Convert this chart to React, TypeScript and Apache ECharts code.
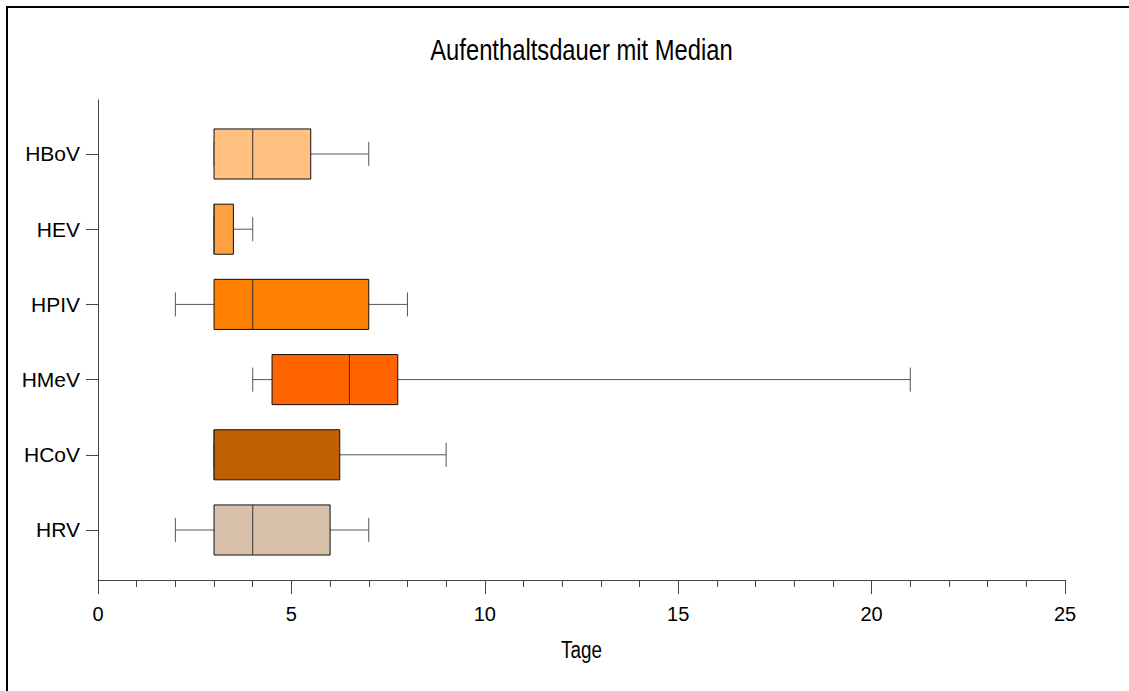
import React, { useEffect, useRef } from "react";
import * as echarts from "echarts";

// Categories, top to bottom as shown
const categories = ["HBoV", "HEV", "HPIV", "HMeV", "HCoV", "HRV"];
// Box statistics (days)
const minValues = [3, 3, 2, 4, 3, 2];
const q1Values = [3, 3, 3, 4.5, 3, 3];
const medianValues = [4, 3, 4, 6.5, 3, 4];
const q3Values = [5.5, 3.5, 7, 7.75, 6.25, 6];
const maxValues = [7, 4, 8, 21, 9, 7];
const boxColors = ["#FFC080", "#FFA040", "#FF8000", "#FF6400", "#C06000", "#D9C0AA"];
const xTicks = [0, 5, 10, 15, 20, 25];
const titleText = "Aufenthaltsdauer mit Median";
const xAxisTitle = "Tage";

const FONT = "'Liberation Sans', Arial, sans-serif";
const W = 1129;
const H = 691;
const GRID = { left: 98, right: 64, top: 100, bottom: 111 };

export default function App() {
  const ref = useRef<HTMLDivElement>(null);
  useEffect(() => {
    if (!ref.current) return;
    const chart = echarts.init(ref.current, null, { renderer: "svg" });
    const n = categories.length;
    const positions = categories.map((_, i) => n - i);
    const data = categories.map((c, i) => [
      positions[i],
      minValues[i],
      q1Values[i],
      medianValues[i],
      q3Values[i],
      maxValues[i],
      i,
    ]);
    const plotCenterX = (GRID.left + (W - GRID.right)) / 2;
    chart.setOption({
      animation: false,
      backgroundColor: "transparent",
      graphic: [
        {
          type: "text",
          x: plotCenterX,
          y: 50,
          scaleX: 0.82,
          style: {
            text: titleText,
            fontFamily: FONT,
            fontSize: 29,
            fill: "#000",
            textAlign: "center",
            textVerticalAlign: "middle",
          },
        },
        {
          type: "text",
          x: plotCenterX,
          y: 650,
          scaleX: 0.82,
          style: {
            text: xAxisTitle,
            fontFamily: FONT,
            fontSize: 23,
            fill: "#000",
            textAlign: "center",
            textVerticalAlign: "middle",
          },
        },
      ],
      grid: GRID,
      xAxis: {
        type: "value",
        min: 0,
        max: xTicks[xTicks.length - 1],
        interval: 5,
        axisLine: { show: true, lineStyle: { color: "#444", width: 1 } },
        axisTick: { show: true, length: 14, lineStyle: { color: "#444" } },
        minorTick: { show: true, splitNumber: 5, length: 7, lineStyle: { color: "#444" } },
        axisLabel: { fontFamily: FONT, fontSize: 20, color: "#000", margin: 24 },
        splitLine: { show: false },
      },
      yAxis: {
        type: "value",
        min: 0.335,
        max: 6.718,
        axisLine: { show: true, lineStyle: { color: "#444", width: 1 } },
        axisTick: { show: true, length: 12, customValues: positions, lineStyle: { color: "#444" } },
        axisLabel: {
          customValues: positions,
          fontFamily: FONT,
          fontSize: 21,
          color: "#000",
          margin: 18,
          formatter: (v: number) => categories[n - Math.round(v)] ?? "",
        },
        splitLine: { show: false },
      },
      series: [
        {
          type: "custom",
          data,
          encode: { y: 0, x: [1, 2, 3, 4, 5] },
          renderItem: (params: any, api: any) => {
            const y = api.value(0);
            const idx = api.value(6);
            const unit = api.size([0, 1])[1];
            const boxHalf = unit * 0.333;
            const capHalf = unit * 0.16;
            const pMin = api.coord([api.value(1), y]);
            const pQ1 = api.coord([api.value(2), y]);
            const pMed = api.coord([api.value(3), y]);
            const pQ3 = api.coord([api.value(4), y]);
            const pMax = api.coord([api.value(5), y]);
            const cy = pMed[1];
            const whisker = { stroke: "#555", lineWidth: 1 };
            return {
              type: "group",
              children: [
                { type: "line", shape: { x1: pMin[0], y1: cy, x2: pQ1[0], y2: cy }, style: whisker },
                { type: "line", shape: { x1: pQ3[0], y1: cy, x2: pMax[0], y2: cy }, style: whisker },
                { type: "line", shape: { x1: pMin[0], y1: cy - capHalf, x2: pMin[0], y2: cy + capHalf }, style: whisker },
                { type: "line", shape: { x1: pMax[0], y1: cy - capHalf, x2: pMax[0], y2: cy + capHalf }, style: whisker },
                {
                  type: "rect",
                  shape: { x: pQ1[0], y: cy - boxHalf, width: pQ3[0] - pQ1[0], height: boxHalf * 2 },
                  style: { fill: boxColors[idx], stroke: "#111", lineWidth: 1 },
                },
                { type: "line", shape: { x1: pMed[0], y1: cy - boxHalf, x2: pMed[0], y2: cy + boxHalf }, style: { stroke: "#333", lineWidth: 1 } },
              ],
            };
          },
        },
      ],
    });
    return () => chart.dispose();
  }, []);
  return (
    <div style={{ position: "fixed", left: 0, top: 0, width: W, height: H, overflow: "hidden", background: "#fff" }}>
      <div
        style={{
          position: "absolute",
          left: 6,
          top: 6,
          width: 2000,
          height: 2000,
          borderLeft: "2px solid #000",
          borderTop: "2px solid #000",
        }}
      />
      <div ref={ref} style={{ position: "absolute", left: 0, top: 0, width: W, height: H }} />
    </div>
  );
}
